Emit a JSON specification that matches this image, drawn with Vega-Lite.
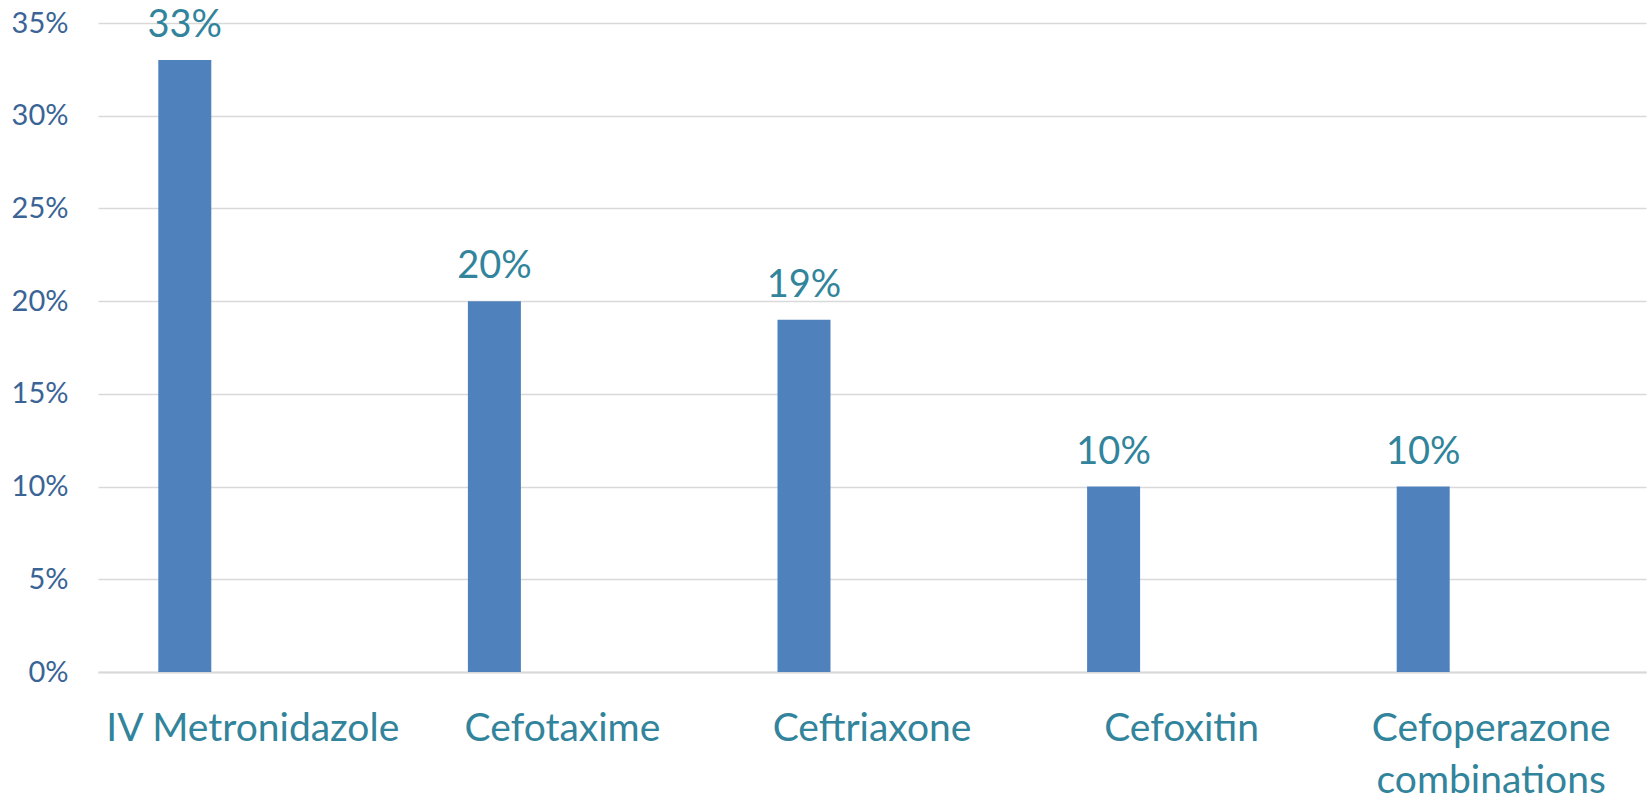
{
  "$schema": "https://vega.github.io/schema/vega-lite/v6.json",
  "autosize": {"type": "none"},
  "width": 1548,
  "height": 649,
  "padding": {"left": 98, "top": 23, "right": 6, "bottom": 131},
  "background": "white",
  "data": {
    "values": [
      {"drug": "IV Metronidazole", "share": 0.33},
      {"drug": "Cefotaxime", "share": 0.20},
      {"drug": "Ceftriaxone", "share": 0.19},
      {"drug": "Cefoxitin", "share": 0.10},
      {"drug": "Cefoperazone|combinations", "share": 0.10}
    ]
  },
  "encoding": {
    "x": {
      "field": "drug",
      "type": "nominal",
      "sort": null,
      "scale": {"paddingInner": 0, "paddingOuter": 0},
      "axis": {
        "title": null,
        "labelAngle": 0,
        "labelExpr": "split(datum.label, '|')",
        "labelFont": "Lato",
        "labelFontSize": 39,
        "labelColor": "#31849B",
        "labelPadding": 37,
        "labelLineHeight": 52,
        "labelLimit": 0,
        "labelOverlap": false,
        "ticks": false,
        "domain": true,
        "domainColor": "#D9D9D9",
        "domainWidth": 2
      }
    },
    "y": {
      "field": "share",
      "type": "quantitative",
      "scale": {"domain": [0, 0.35], "nice": false},
      "axis": {
        "title": null,
        "values": [0, 0.05, 0.1, 0.15, 0.2, 0.25, 0.3, 0.35],
        "format": ".0%",
        "labelFont": "Lato",
        "labelFontSize": 29,
        "labelColor": "#3A6496",
        "labelPadding": 30,
        "ticks": false,
        "domain": false,
        "grid": true,
        "gridColor": "#D9D9D9",
        "gridWidth": 1.5
      }
    }
  },
  "layer": [
    {
      "mark": {"type": "bar", "color": "#4F81BD", "width": 53, "xOffset": -68}
    },
    {
      "mark": {"type": "text", "xOffset": -68, "dy": -23, "baseline": "alphabetic", "font": "Lato", "fontSize": 38, "color": "#31849B"},
      "encoding": {"text": {"field": "share", "type": "quantitative", "format": ".0%"}}
    }
  ],
  "config": {"view": {"stroke": null}}
}
